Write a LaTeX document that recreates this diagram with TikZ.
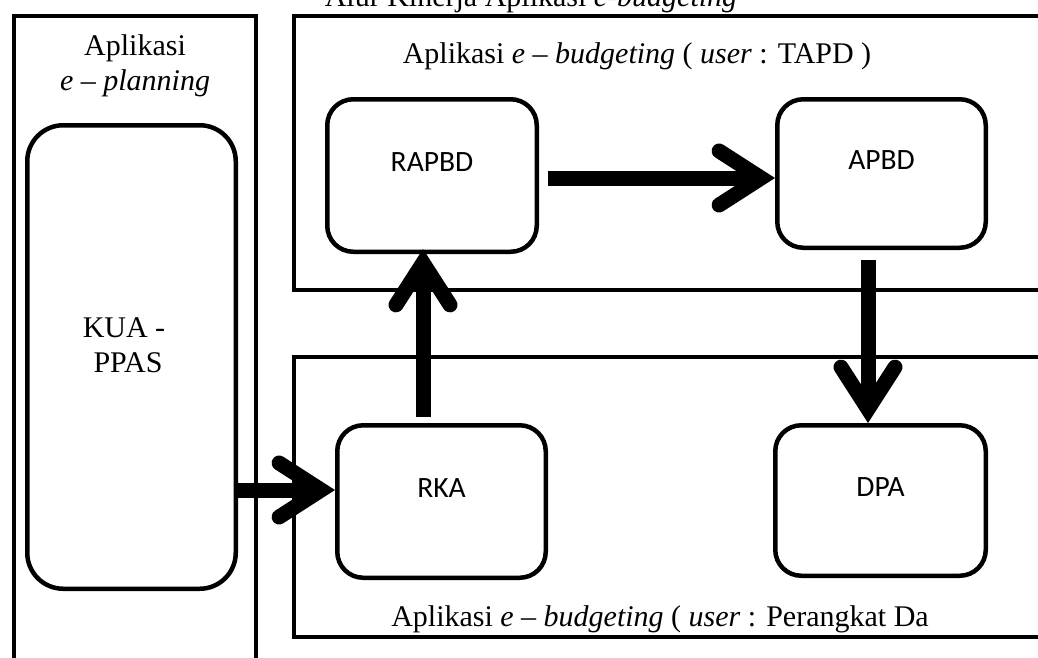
\documentclass[tikz,border=0pt]{standalone}
\usepackage{fontspec}
\setmainfont{Liberation Serif}
\newfontfamily\boxfont{Carlito}
\usetikzlibrary{arrows.meta}
\begin{document}
\begin{tikzpicture}[x=1pt,y=-1pt,
  container/.style={draw, line width=4pt},
  rbox/.style={draw, line width=4.5pt, rounded corners=26pt, inner sep=0pt},
  boxlbl/.style={font=\boxfont\fontsize{29.5}{35}\selectfont, inner sep=0pt},
  serif/.style={font=\fontsize{30}{35}\selectfont, inner sep=0pt, anchor=base},
  flow/.style={line width=15pt, -{Straight Barb[length=42pt,width=54pt,line width=15pt,line cap=round,line join=miter]}}]
\useasboundingbox (0,0) rectangle (1038,657);
\clip (0,0) rectangle (1038,657);

% containers
\draw[container] (14,16) rectangle (256,720);
\draw[container] (294,16) rectangle (1100,290);
\draw[container] (294,357) rectangle (1100,637);

% texts of containers
\node[serif] (title) at (531,6) {Alur Kinerja Aplikasi \textit{e-budgeting}};
\node[serif] (ep1) at (135,55) {Aplikasi};
\node[serif] (ep2) at (135,90) {\textit{e} -- \textit{planning}};
\node[serif] (tapd) at (637,63) {Aplikasi \textit{e} -- \textit{budgeting} ( \textit{user} : TAPD )};
\node[serif] (pd) at (660,626) {Aplikasi \textit{e} -- \textit{budgeting} ( \textit{user} : Perangkat Da};

% boxes
\node[rbox, rounded corners=36pt, minimum width=208.5pt, minimum height=463.5pt] (kua) at (131.5,357) {};
\node[serif] (kua1) at (124,337) {KUA -};
\node[serif] (kua2) at (128,372) {PPAS};

\node[rbox, minimum width=209.5pt, minimum height=152.5pt,
  label={[boxlbl, yshift=13.5pt]center:RAPBD}] (rapbd) at (432,175.5) {};
\node[rbox, minimum width=208.5pt, minimum height=148.5pt,
  label={[boxlbl, yshift=13.5pt]center:APBD}] (apbd) at (881.5,173.5) {};
\node[rbox, minimum width=208.5pt, minimum height=152.5pt,
  label={[boxlbl, yshift=13.5pt]center:RKA}] (rka) at (441.5,501.5) {};
\node[rbox, minimum width=210.5pt, minimum height=150.5pt,
  label={[boxlbl, yshift=13.5pt]center:DPA}] (dpa) at (880.5,500.5) {};

% connectors
\path (rapbd.east) ++(9,2.5) coordinate (s1);
\draw[flow] (s1) -- (s1 -| apbd.west);
\path (rka.north) ++(-18.5,-6) coordinate (s2);
\draw[flow, shorten >=-5pt] (s2) -- (s2 |- rapbd.south);
\path (apbd.south) ++(-13.5,10) coordinate (s3);
\draw[flow] (s3) -- (s3 |- dpa.north);
\path (rka.west) ++(0,-11.5) coordinate (t4);
\draw[flow] (t4 -| kua.east) -- (t4);
\end{tikzpicture}
\end{document}
